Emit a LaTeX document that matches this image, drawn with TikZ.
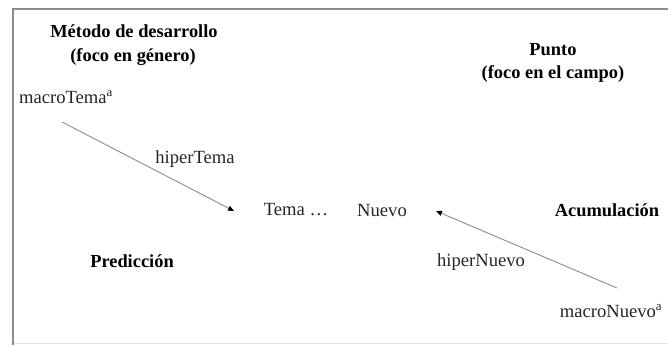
\documentclass[tikz,border=0pt]{standalone}
\usepackage{fontspec}
\setmainfont{Liberation Serif}
\usetikzlibrary{arrows.meta}
\tikzset{
  txt/.style={inner sep=0pt, font=\fontsize{18.6}{21}\selectfont, text=black!85},
  head/.style={inner sep=0pt, font=\fontsize{18.4}{22}\selectfont\bfseries, text=black, align=center},
  arr/.style={draw=black!45, line width=0.9pt, -{Triangle[length=6pt,width=5pt,color=black]}},
  frame/.style={draw=black!45, line width=2.2pt}
}
\begin{document}
\begin{tikzpicture}[x=1pt,y=-1pt]
\useasboundingbox (0,0) rectangle (668,345);
\fill[white] (0,0) rectangle (668,345);
% frame
\coordinate (fbl) at (13,345);
\coordinate (ftl) at (13,9);
\coordinate (ftr) at (668,9);
\draw[frame] (fbl) -- (ftl) -- (ftr);
\coordinate (bl) at (14,343.5);
\coordinate (br) at (668,343.5);
\draw[draw=black!12, line width=0.8pt] (bl) -- (br);
% headings
\node[head] (metodo) at (134,31) {Método de desarrollo};
\node[head] (foco1) at (133,57) {(foco en género)};
\node[head] (punto) at (553,50) {Punto};
\node[head] (foco2) at (553,74) {(foco en el campo)};
\node[head] (acum) at (607,210) {Acumulación};
\node[head] (pred) at (132,261) {Predicción};
% plain labels
\node[txt] (mt) at (66,97) {macroTema\textsuperscript{a}};
\node[txt] (ht) at (195,159) {hiperTema};
\node[txt] (tema) at (296,210) {Tema …};
\node[txt] (nuevo) at (382,210) {Nuevo};
\node[txt] (hn) at (481,262) {hiperNuevo};
\node[txt] (mn) at (611,311) {macroNuevo\textsuperscript{a}};
% connectors
\draw[arr] ([shift={(-4,25)}]mt.center) -- ([shift={(-62,1)}]tema.center);
\draw[arr] ([shift={(6,-23)}]mn.center) -- ([shift={(54,1)}]nuevo.center);
\end{tikzpicture}
\end{document}
